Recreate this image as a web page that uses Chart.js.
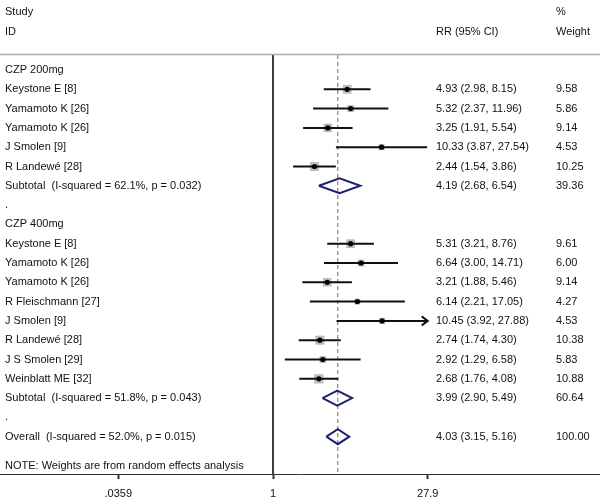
<!DOCTYPE html>
<html>
<head>
<meta charset="utf-8">
<script src="https://cdn.jsdelivr.net/npm/chart.js@4"></script>
<style>
  html, body { margin: 0; padding: 0; background: #fff; }
  #wrap { width: 600px; height: 503px; position: relative; }
</style>
</head>
<body>
<div id="wrap"><canvas id="c" width="600" height="503"></canvas></div>
<script>
// ---- data ----
const groupNames = ['CZP 200mg', 'CZP 400mg'];
const studyNames = ['Keystone E [8]', 'Yamamoto K [26]', 'Yamamoto K [26]', 'J Smolen [9]', 'R Landewé [28]',
  'Keystone E [8]', 'Yamamoto K [26]', 'Yamamoto K [26]', 'R Fleischmann [27]', 'J Smolen [9]', 'R Landewé [28]', 'J S Smolen [29]', 'Weinblatt ME [32]'];
const studyGroup  = [0, 0, 0, 0, 0, 1, 1, 1, 1, 1, 1, 1, 1];
const studyRR     = [4.93, 5.32, 3.25, 10.33, 2.44, 5.31, 6.64, 3.21, 6.14, 10.45, 2.74, 2.92, 2.68];
const studyLo     = [2.98, 2.37, 1.91, 3.87, 1.54, 3.21, 3.00, 1.88, 2.21, 3.92, 1.74, 1.29, 1.76];
const studyHi     = [8.15, 11.96, 5.54, 27.54, 3.86, 8.76, 14.71, 5.46, 17.05, 27.88, 4.30, 6.58, 4.08];
const studyWeight = [9.58, 5.86, 9.14, 4.53, 10.25, 9.61, 6.00, 9.14, 4.27, 4.53, 10.38, 5.83, 10.88];
const studyArrow  = [false, false, false, false, false, false, false, false, false, true, false, false, false];
const subtotalLabels = ['Subtotal  (I-squared = 62.1%, p = 0.032)', 'Subtotal  (I-squared = 51.8%, p = 0.043)'];
const subtotalRR = [4.19, 3.99];
const subtotalLo = [2.68, 2.90];
const subtotalHi = [6.54, 5.49];
const subtotalWeight = [39.36, 60.64];
const overallLabel = 'Overall  (I-squared = 52.0%, p = 0.015)';
const overallRR = 4.03, overallLo = 3.15, overallHi = 5.16, overallWeight = 100.00;
const noteText = 'NOTE: Weights are from random effects analysis';
const tickValues = [0.0359, 1, 27.9];
const tickLabels = ['.0359', '1', '27.9'];

// ---- row layout ----
const rows = [];
let r = 0;
groupNames.forEach((g, gi) => {
  rows.push({ type: 'label', text: g, y: r++ });
  studyNames.forEach((n, i) => {
    if (studyGroup[i] === gi) rows.push({ type: 'study', i, text: n, y: r++ });
  });
  rows.push({ type: 'sub', i: gi, text: subtotalLabels[gi], y: r++ });
  rows.push({ type: 'label', text: '.', y: r++ });
});
rows.push({ type: 'overall', text: overallLabel, y: r++ });
const noteRow = r + 0.5;

const ROW_PX = 19.3, FIRST_ROW_PX = 70, TOP_PX = 55, BOTTOM_PX = 474;
const yMin = (TOP_PX - FIRST_ROW_PX) / ROW_PX;
const yMax = (BOTTOM_PX - FIRST_ROW_PX) / ROW_PX;
const PX_PER_LN = 46.49, NULL_PX = 273;
const xMin = Math.exp(-NULL_PX / PX_PER_LN);
const xMax = Math.exp((600 - NULL_PX) / PX_PER_LN);

// ---- datasets ----
const ciPts = [], sqPts = [], sqRad = [], dotPts = [];
rows.filter(o => o.type === 'study').forEach(o => {
  const i = o.i;
  ciPts.push({ x: studyLo[i], y: o.y }, { x: studyHi[i], y: o.y }, { x: studyHi[i], y: null });
  sqPts.push({ x: studyRR[i], y: o.y });
  sqRad.push(2.0 * Math.sqrt(studyWeight[i]));
  dotPts.push({ x: studyRR[i], y: o.y });
});
const DH = 7.5 / ROW_PX;
function diamond(est, lo, hi, y) {
  return [{ x: lo, y }, { x: est, y: y - DH }, { x: hi, y }, { x: est, y: y + DH }, { x: lo, y }];
}
const diamondSets = [];
rows.forEach(o => {
  if (o.type === 'sub') diamondSets.push(diamond(subtotalRR[o.i], subtotalLo[o.i], subtotalHi[o.i], o.y));
  if (o.type === 'overall') diamondSets.push(diamond(overallRR, overallLo, overallHi, o.y));
});

const lineBase = { type: 'scatter', showLine: true, pointRadius: 0, fill: false, tension: 0 };
const datasets = [
  Object.assign({}, lineBase, { data: [{ x: overallRR, y: yMin }, { x: overallRR, y: yMax }], borderColor: '#a4505a', borderWidth: 1, borderDash: [4, 3], order: 10 }),
  Object.assign({}, lineBase, { data: [{ x: 1, y: yMin }, { x: 1, y: yMax }], borderColor: '#222', borderWidth: 1, order: 9 }),
  { type: 'scatter', data: sqPts, pointStyle: 'rect', pointRadius: sqRad, backgroundColor: '#bdbdbd', borderColor: '#bdbdbd', borderWidth: 0, order: 8 },
  Object.assign({}, lineBase, { data: ciPts, borderColor: '#111', borderWidth: 2, spanGaps: false, order: 7 }),
  { type: 'scatter', data: dotPts, pointStyle: 'circle', pointRadius: 2.6, backgroundColor: '#000', borderColor: '#000', borderWidth: 0, order: 6 },
];
diamondSets.forEach(d => datasets.push(Object.assign({}, lineBase, { data: d, borderColor: '#1c2472', borderWidth: 2, order: 5 })));

const FONT = '11px "Liberation Sans", Arial, sans-serif';
const TEXT = '#111';

const textPlugin = {
  id: 'forestText',
  afterDatasetsDraw(chart) {
    const ctx = chart.ctx, xs = chart.scales.x, ys = chart.scales.y;
    ctx.save();
    ctx.strokeStyle = '#111'; ctx.lineWidth = 2;
    rows.filter(o => o.type === 'study' && studyArrow[o.i]).forEach(o => {
      const px = xs.getPixelForValue(studyHi[o.i]), py = ys.getPixelForValue(o.y);
      ctx.beginPath();
      ctx.moveTo(px - 6, py - 4.5); ctx.lineTo(px, py); ctx.lineTo(px - 6, py + 4.5);
      ctx.stroke();
    });
    ctx.restore();
  },
  afterDraw(chart) {
    const ctx = chart.ctx, ys = chart.scales.y;
    ctx.save();
    ctx.font = FONT; ctx.fillStyle = TEXT; ctx.textBaseline = 'middle'; ctx.textAlign = 'left';
    ctx.fillText('Study', 5, 12);
    ctx.fillText('ID', 5, 32);
    ctx.fillText('RR (95% CI)', 436, 32);
    ctx.fillText('%', 556, 12);
    ctx.fillText('Weight', 556, 32);
    const fmt = (e, l, h) => e.toFixed(2) + ' (' + l.toFixed(2) + ', ' + h.toFixed(2) + ')';
    rows.forEach(o => {
      const py = ys.getPixelForValue(o.y);
      ctx.fillText(o.text, 5, py);
      if (o.type === 'study') {
        ctx.fillText(fmt(studyRR[o.i], studyLo[o.i], studyHi[o.i]), 436, py);
        ctx.fillText(studyWeight[o.i].toFixed(2), 556, py);
      } else if (o.type === 'sub') {
        ctx.fillText(fmt(subtotalRR[o.i], subtotalLo[o.i], subtotalHi[o.i]), 436, py);
        ctx.fillText(subtotalWeight[o.i].toFixed(2), 556, py);
      } else if (o.type === 'overall') {
        ctx.fillText(fmt(overallRR, overallLo, overallHi), 436, py);
        ctx.fillText(overallWeight.toFixed(2), 556, py);
      }
    });
    ctx.fillText(noteText, 5, ys.getPixelForValue(noteRow));
    ctx.strokeStyle = '#aaaaaa'; ctx.lineWidth = 1.5;
    ctx.beginPath(); ctx.moveTo(0, 54.5); ctx.lineTo(600, 54.5); ctx.stroke();
    ctx.restore();
  }
};

new Chart(document.getElementById('c'), {
  data: { datasets },
  options: {
    responsive: false,
    animation: false,
    events: [],
    layout: { autoPadding: false, padding: { top: TOP_PX, left: 0, right: 0, bottom: 0 } },
    plugins: { legend: { display: false }, tooltip: { enabled: false } },
    scales: {
      x: {
        type: 'logarithmic',
        position: 'bottom',
        min: xMin, max: xMax,
        afterBuildTicks: s => { s.ticks = tickValues.map(v => ({ value: v })); },
        afterFit: s => { s.height = 503 - BOTTOM_PX; },
        ticks: {
          autoSkip: false, maxRotation: 0, padding: 8,
          font: { family: '"Liberation Sans", Arial, sans-serif', size: 11 }, color: TEXT,
          callback: (v, i) => tickLabels[i]
        },
        grid: { drawOnChartArea: false, drawTicks: true, tickLength: 5, tickWidth: 2, tickColor: '#333', color: '#333', lineWidth: 1 },
        border: { display: true, color: '#333', width: 1 }
      },
      y: {
        type: 'linear', reverse: true, min: yMin, max: yMax, display: false
      }
    }
  },
  plugins: [textPlugin]
});
</script>
</body>
</html>
